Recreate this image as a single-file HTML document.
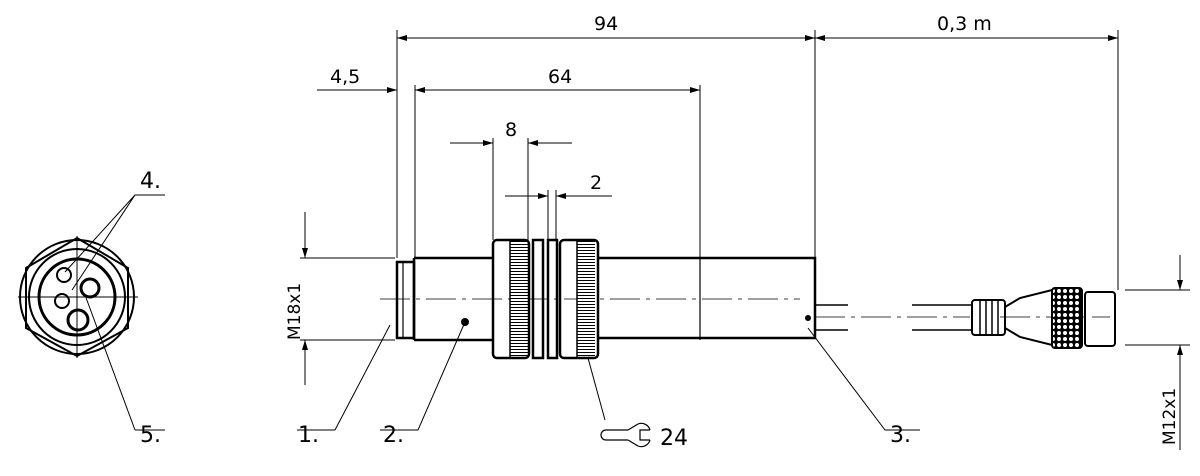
<!DOCTYPE html>
<html><head><meta charset="utf-8"><style>body{margin:0;background:#fff}svg{display:block}text{font-family:"DejaVu Sans","Liberation Sans",sans-serif;fill:#000}</style></head><body>
<svg width="1200" height="476" viewBox="0 0 1200 476" xmlns="http://www.w3.org/2000/svg">
<defs><marker id="a" viewBox="0 0 10 6" refX="10" refY="3" markerWidth="14" markerHeight="6" markerUnits="userSpaceOnUse" orient="auto-start-reverse"><path d="M0,0L10,3L0,6z" fill="#000"/></marker>
<pattern id="k" width="4" height="3" patternUnits="userSpaceOnUse"><rect width="4" height="3" fill="#fff"/><line x1="0" y1="1.5" x2="4" y2="1.5" stroke="#000" stroke-width="1"/></pattern>
<pattern id="x" width="6" height="6" patternUnits="userSpaceOnUse"><rect width="6" height="6" fill="#000"/><circle cx="3" cy="3" r="2" fill="#fff"/></pattern></defs>
<g stroke="#000" stroke-width="1" fill="none">
<path d="M397,30V258M415,85V258M493,138V240M528,138V240M548,190V240M556,190V240M700,85V258M815,30V258M1118,30V290M300,258H395M300,340H395M1125,290H1190M1125,345H1190"/>
<line x1="397" y1="38" x2="815" y2="38" marker-start="url(#a)" marker-end="url(#a)"/>
<line x1="815" y1="38" x2="1118" y2="38" marker-start="url(#a)" marker-end="url(#a)"/>
<line x1="317" y1="90" x2="397" y2="90" marker-end="url(#a)"/>
<line x1="415" y1="90" x2="700" y2="90" marker-start="url(#a)" marker-end="url(#a)"/>
<line x1="450" y1="143" x2="493" y2="143" marker-end="url(#a)"/>
<line x1="572" y1="143" x2="528" y2="143" marker-end="url(#a)"/>
<line x1="505" y1="196" x2="548" y2="196" marker-end="url(#a)"/>
<line x1="612" y1="196" x2="556" y2="196" marker-end="url(#a)"/>
<line x1="305" y1="212" x2="305" y2="258" marker-end="url(#a)"/>
<line x1="305" y1="385" x2="305" y2="340" marker-end="url(#a)"/>
<line x1="1180" y1="255" x2="1180" y2="290" marker-end="url(#a)"/>
<line x1="1180" y1="380" x2="1180" y2="345" marker-end="url(#a)"/>
<line x1="1180" y1="380" x2="1180" y2="450"/>
<path d="M380,299H800M815,317H970M1000,317H1110" stroke-dasharray="30,6,4,6" stroke-width="0.8"/>
</g>
<g stroke="#000" stroke-width="2.5" fill="none">
<rect x="397" y="262" width="17" height="76"/>
<line x1="403" y1="262" x2="403" y2="338" stroke-width="1.2"/>
<path d="M414,258H493M598,258H815V338H598M493,340H414M414,258V340"/>
<line x1="700" y1="258" x2="700" y2="340" stroke-width="1.2"/>
<rect x="510" y="241" width="18" height="116" fill="url(#k)" stroke="none"/>
<rect x="577" y="241" width="18" height="116" fill="url(#k)" stroke="none"/>
<rect x="493" y="240" width="36" height="118" rx="4"/>
<path d="M510,240V358M577,240V358" stroke-width="1.5"/>
<rect x="533" y="240" width="10" height="118"/>
<rect x="548" y="240" width="9" height="118"/>
<rect x="560" y="240" width="38" height="118" rx="4"/>
<path d="M815,305H848M815,330H848M912,305H972M912,330H972" stroke-width="1.5"/>
<rect x="972" y="300" width="33" height="35" rx="3" stroke-width="2"/>
<path d="M1005,307L1020,298L1052,290V345L1020,337L1005,328" stroke-width="2"/>
<rect x="1052" y="288" width="30" height="60" rx="3" stroke-width="2" fill="url(#x)"/>
<rect x="1085" y="292" width="30" height="54" rx="3" stroke-width="2"/>
</g>
<g stroke="#000" stroke-width="1.5">
<path d="M980,300V335M986,300V335M992,300V335M998,300V335"/>
</g>
<circle cx="465" cy="322" r="4"/><circle cx="808" cy="318" r="3"/>
<g stroke="#000" fill="none" stroke-width="2">
<polygon points="77,238 128,268 128,328 77,356 26,328 26,268"/>
<circle cx="77" cy="297" r="57"/>
<circle cx="77" cy="297" r="48"/>
<circle cx="77" cy="297" r="38" stroke-width="3"/>
<circle cx="64" cy="275" r="7"/><circle cx="62" cy="301" r="7"/>
<circle cx="90" cy="288" r="9" stroke-width="3"/>
<circle cx="78" cy="320" r="10" stroke-width="3"/>
</g>
<g stroke="#000" stroke-width="1" fill="none">
<path d="M18,297H138M77,236V358"/>
<path d="M165,195H135L65,272M135,195L72,290M85,295L135,430M135,430H165"/>
<path d="M390,325L335,430M297,430H335M465,322L418,430H380M808,328L885,430H920"/>
<path d="M588,358L605,420"/>
<path d="M606,430H628M606,440H628M606,430A5,5 0 0 0 606,440M628,430L638,424M628,440L638,446M638,424A9,9 0 0 1 650,430M638,446A9,9 0 0 0 650,440M650,430H640V440H650" stroke-width="1.2"/>
</g>
<g font-size="19">
<text x="594" y="30">94</text>
<text x="937" y="30">0,3 m</text>
<text x="330" y="83">4,5</text>
<text x="548" y="83">64</text>
<text x="505" y="136">8</text>
<text x="590" y="189">2</text>
<text x="298" y="442" font-size="22">1.</text>
<text x="383" y="442" font-size="22">2.</text>
<text x="890" y="442" font-size="22">3.</text>
<text x="140" y="188" font-size="22">4.</text>
<text x="140" y="442" font-size="22">5.</text>
<text x="660" y="445" font-size="22">24</text>
<text transform="translate(300,340) rotate(-90)" x="0" y="0" font-size="17">M18x1</text>
<text transform="translate(1175,445) rotate(-90)" x="0" y="0" font-size="17">M12x1</text>
</g>
</svg>
</body></html>
